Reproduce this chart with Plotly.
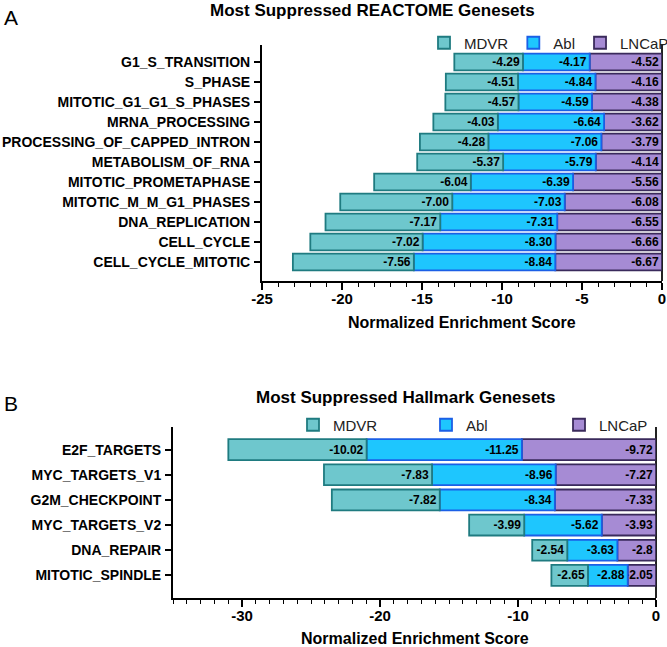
import plotly.graph_objects as go

# ---------------- data ----------------
reactome_sets = ["G1_S_TRANSITION", "S_PHASE", "MITOTIC_G1_G1_S_PHASES", "MRNA_PROCESSING",
                 "PROCESSING_OF_CAPPED_INTRON", "METABOLISM_OF_RNA", "MITOTIC_PROMETAPHASE",
                 "MITOTIC_M_M_G1_PHASES", "DNA_REPLICATION", "CELL_CYCLE", "CELL_CYCLE_MITOTIC"]
reactome_mdvr = [-4.29, -4.51, -4.57, -4.03, -4.28, -5.37, -6.04, -7.00, -7.17, -7.02, -7.56]
reactome_abl = [-4.17, -4.84, -4.59, -6.64, -7.06, -5.79, -6.39, -7.03, -7.31, -8.30, -8.84]
reactome_lncap = [-4.52, -4.16, -4.38, -3.62, -3.79, -4.14, -5.56, -6.08, -6.55, -6.66, -6.67]

hallmark_sets = ["E2F_TARGETS", "MYC_TARGETS_V1", "G2M_CHECKPOINT", "MYC_TARGETS_V2",
                 "DNA_REPAIR", "MITOTIC_SPINDLE"]
hallmark_mdvr = [-10.02, -7.83, -7.82, -3.99, -2.54, -2.65]
hallmark_abl = [-11.25, -8.96, -8.34, -5.62, -3.63, -2.88]
hallmark_lncap = [-9.72, -7.27, -7.33, -3.93, -2.8, -2.05]

reactome_ticks = [-25, -20, -15, -10, -5, 0]
hallmark_ticks = [-30, -20, -10, 0]

# ---------------- styles ----------------
W, H = 667, 647
FONT = "Liberation Sans, Arial, sans-serif"
styles = {
    "MDVR": dict(fill="#6EC7CD", line="#1F7B80"),
    "Abl": dict(fill="#1EC6FE", line="#1B5FE6"),
    "LNCaP": dict(fill="#A68BD4", line="#3A2A5B"),
}


def px_x(p):
    return p / W


def px_y(p):
    return 1 - p / H


fig = go.Figure()


def add_panel(cats, series, xa, ya, legend, fmt):
    # LNCaP is stacked next to zero, then Abl, then MDVR
    for name, vals in series:
        st = styles[name]
        fig.add_trace(go.Bar(
            y=cats, x=vals, orientation="h", name=name,
            xaxis=xa, yaxis=ya, legend=legend,
            marker=dict(color=st["fill"], line=dict(color=st["line"], width=1.8)),
            text=[fmt(v) for v in vals],
            textposition="inside", insidetextanchor="start",
            insidetextfont=dict(family=FONT, size=12, color="black", weight="bold"),
            constraintext="none",
            hoverinfo="skip",
        ))


add_panel(reactome_sets,
          [("LNCaP", reactome_lncap), ("Abl", reactome_abl), ("MDVR", reactome_mdvr)],
          "x", "y", "legend", lambda v: f"{v:.2f}")
add_panel(hallmark_sets,
          [("LNCaP", hallmark_lncap), ("Abl", hallmark_abl), ("MDVR", hallmark_mdvr)],
          "x2", "y2", "legend2", lambda v: f"{v:g}")

xaxis_common = dict(
    showline=True, linewidth=2, linecolor="black",
    ticks="outside", ticklen=7, tickwidth=1.6, tickcolor="black",
    showgrid=False, zeroline=True, zerolinecolor="#222", zerolinewidth=1.5,
    tickfont=dict(family=FONT, size=15, color="black", weight="bold"),
    minor=dict(dtick=1, ticks="outside", ticklen=4, tickwidth=1.4, tickcolor="black"),
    fixedrange=True, automargin=False, ticklabelstandoff=-4,
)
yaxis_common = dict(
    showline=True, linewidth=2, linecolor="black",
    ticks="outside", ticklen=6, tickwidth=1.6, tickcolor="black",
    showgrid=False, zeroline=False,
    tickfont=dict(family=FONT, size=14, color="black", weight="bold"),
    type="category", ticklabelstandoff=1, automargin=False, fixedrange=True,
)

fig.update_layout(
    width=W, height=H,
    margin=dict(l=0, r=0, t=0, b=0, autoexpand=False),
    paper_bgcolor="white", plot_bgcolor="white",
    barmode="relative", bargap=0.17,
    showlegend=True,
    uniformtext=dict(minsize=12, mode="show"),
    xaxis=dict(xaxis_common, domain=[px_x(262), px_x(662)], range=[-25, 0],
               tickvals=reactome_ticks, ticktext=[str(t) for t in reactome_ticks],
               anchor="y"),
    yaxis=dict(yaxis_common, domain=[px_y(281), px_y(45)],
               categoryorder="array", categoryarray=reactome_sets,
               range=[len(reactome_sets) - 0.05, -0.85], anchor="x"),
    xaxis2=dict(xaxis_common, domain=[px_x(173), px_x(656)], range=[-35, 0],
                tickvals=hallmark_ticks, ticktext=[str(t) for t in hallmark_ticks],
                anchor="y2"),
    yaxis2=dict(yaxis_common, domain=[px_y(598), px_y(427)],
                categoryorder="array", categoryarray=hallmark_sets,
                range=[len(hallmark_sets) - 0.1, -0.9], anchor="x2"),
    legend=dict(orientation="h", x=px_x(424), y=px_y(43), xanchor="left", yanchor="middle",
                traceorder="reversed", font=dict(family=FONT, size=15, color="#222"),
                bgcolor="rgba(0,0,0,0)", itemclick=False, itemdoubleclick=False),
    legend2=dict(orientation="h", x=px_x(293), y=px_y(425), xanchor="left", yanchor="middle",
                 traceorder="reversed", font=dict(family=FONT, size=15, color="#222"),
                 entrywidth=88, bgcolor="rgba(0,0,0,0)", itemclick=False, itemdoubleclick=False),
    annotations=[
        dict(text="<b>Most Suppressed REACTOME Genesets</b>", x=px_x(372), y=px_y(10),
             xref="paper", yref="paper", showarrow=False, xanchor="center", yanchor="middle",
             font=dict(family=FONT, size=17, color="black")),
        dict(text="<b>Most Suppressed Hallmark Genesets</b>", x=px_x(406), y=px_y(397),
             xref="paper", yref="paper", showarrow=False, xanchor="center", yanchor="middle",
             font=dict(family=FONT, size=17, color="black")),
        dict(text="A", x=px_x(2), y=px_y(18), xref="paper", yref="paper", showarrow=False,
             xanchor="left", yanchor="middle", font=dict(family=FONT, size=21, color="black")),
        dict(text="B", x=px_x(2), y=px_y(403), xref="paper", yref="paper", showarrow=False,
             xanchor="left", yanchor="middle", font=dict(family=FONT, size=21, color="black")),
        dict(text="<b>Normalized Enrichment Score</b>", x=px_x(462), y=px_y(322),
             xref="paper", yref="paper", showarrow=False, xanchor="center", yanchor="middle",
             font=dict(family=FONT, size=16, color="black")),
        dict(text="<b>Normalized Enrichment Score</b>", x=px_x(415), y=px_y(638),
             xref="paper", yref="paper", showarrow=False, xanchor="center", yanchor="middle",
             font=dict(family=FONT, size=16, color="black")),
    ],
)

fig.write_html("out.html", config={"displayModeBar": False},
               post_script="document.body.style.margin='0';document.body.style.overflow='hidden';")
